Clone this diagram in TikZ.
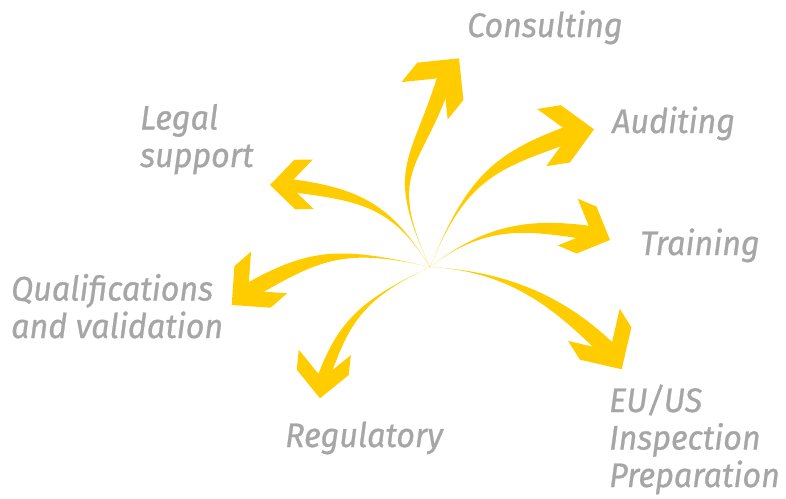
\documentclass[tikz,border=0pt]{standalone}
\usepackage{fontspec}
\setmainfont{Fira Sans}[ItalicFeatures={FakeStretch=0.95,FakeBold=0.8}]
\usetikzlibrary{calc}
\definecolor{arrowyellow}{HTML}{FFCC00}
\definecolor{labelgray}{HTML}{A6A6A6}
% #1 apex name, #2 head axis angle, #3 arm length, #4 cut length,
% #5 start angle, #6 start handle, #7 end angle, #8 end handle, #9 end width
\newcommand\fanarrow[9]{%
  \coordinate (E) at ($(#1)+(#2+180:#4-4)$);
  \coordinate (C1) at ($(S)+(#5:#6)$);
  \coordinate (C2) at ($(E)+(#7+180:#8)$);
  \fill[arrowfill] (S) .. controls (C1) and ($(C2)+(#7+90:#9/2)$) .. ($(E)+(#7+90:#9/2)$)
     -- ($(E)+(#7-90:#9/2)$) .. controls ($(C2)+(#7-90:#9/2)$) and (C1) .. (S) -- cycle;
  \fill[arrowfill] (#1) -- ($(#1)+(#2+135:#3)$) -- ($(#1)+(#2+135:#3)+(#2+180:#4)$)
     -- ($(#1)+(#2+180:#4)$) -- ($(#1)+(#2-135:#3)+(#2+180:#4)$) -- ($(#1)+(#2-135:#3)$) -- cycle;
}
\begin{document}
\begin{tikzpicture}[x=1pt,y=-1pt,
  arrowfill/.style={fill=arrowyellow},
  lab/.style={text=labelgray, font=\fontsize{34}{37.5}\selectfont\itshape,
    inner sep=0pt, anchor=base west, align=left}]
\useasboundingbox (0,0) rectangle (786,498);
\coordinate (S) at (430,267);
\coordinate (hCons) at (459,58.3);
\coordinate (hLegal) at (270,185);
\coordinate (hQual) at (231.7,305);
\coordinate (hReg) at (320,398.3);
\coordinate (hAud) at (594,129.3);
\coordinate (hTrain) at (610,240);
\coordinate (hEU) at (621.7,369.3);
\fanarrow{hCons}{-51}{42}{25}{-115}{110}{-73}{95}{15}
\fanarrow{hLegal}{179}{35}{18.5}{-122}{72}{187}{78}{13}
\fanarrow{hQual}{139}{39}{22}{-167}{90}{150}{80}{16}
\fanarrow{hReg}{96}{37}{20}{155}{80}{110}{60}{12}
\fanarrow{hAud}{-9}{41}{24}{-68}{100}{-20}{80}{17}
\fanarrow{hTrain}{23}{36}{20.5}{-38}{75}{8}{60}{14}
\fanarrow{hEU}{58}{43}{22}{3}{85}{45}{65}{17}
\node[lab] (tCons) at (467,37) {Consulting};
\node[lab] (tLegal) at (140,167) {Legal\\support};
\node[lab] (tAud) at (612,133) {Auditing};
\node[lab] (tTrain) at (640,255) {Training};
\node[lab] (tQual) at (11,338) {Qualifications\\and validation};
\node[lab] (tReg) at (285,447) {Regulatory};
\node[lab] (tEU) at (609,487) {EU/US\\Inspection\\Preparation};
\end{tikzpicture}
\end{document}
